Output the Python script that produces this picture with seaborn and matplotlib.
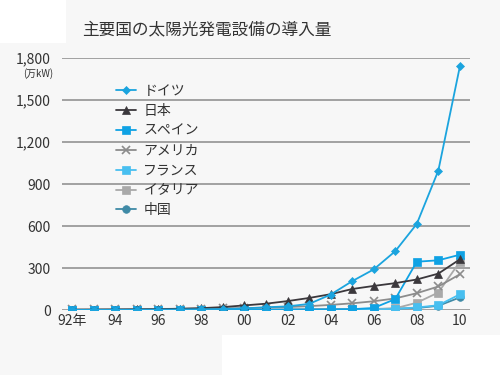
import matplotlib
matplotlib.use("Agg")
import matplotlib.pyplot as plt
import seaborn as sns
import pandas as pd
from matplotlib.patches import Rectangle

sns.set_theme(style="white")
plt.rcParams['font.family'] = ['Noto Sans CJK JP', 'DejaVu Sans']

years = list(range(1992, 2011))
tick_years = [1992, 1994, 1996, 1998, 2000, 2002, 2004, 2006, 2008, 2010]
tick_labels = ["92年", "94", "96", "98", "00", "02", "04", "06", "08", "10"]
y_ticks = [0, 300, 600, 900, 1200, 1500, 1800]
y_labels = ["0", "300", "600", "900", "1,200", "1,500", "1,800"]

countries = ["ドイツ", "日本", "スペイン", "アメリカ", "フランス", "イタリア", "中国"]
germany = [0.6, 0.9, 1.2, 1.8, 2.8, 4.2, 5.4, 7.0, 11.4, 19.5, 26, 43.5, 110, 206, 290, 420, 615, 996, 1740]
japan = [1.9, 2.4, 3.1, 4.3, 6.0, 9.1, 13.3, 20.9, 33.0, 45.2, 63.7, 86.0, 113, 150, 172, 192, 218, 260, 362]
spain = [0.7, 0.7, 0.7, 0.7, 0.7, 0.8, 0.9, 1.0, 1.2, 1.6, 2.0, 2.7, 3.7, 5.8, 14.6, 78, 345, 355, 395]
usa = [4.4, 5.0, 5.8, 6.7, 7.7, 8.8, 10.0, 11.7, 13.9, 16.8, 21.2, 27.5, 36.5, 47.9, 62.4, 83, 120, 168, 255]
france = [0.2, 0.2, 0.2, 0.2, 0.4, 0.6, 0.7, 0.9, 1.1, 1.4, 1.7, 2.1, 2.6, 3.3, 4.4, 7.5, 18, 34, 112]
italy = [0.8, 1.2, 1.4, 1.6, 1.6, 1.7, 1.8, 1.8, 1.9, 2.0, 2.2, 2.6, 3.1, 3.8, 5.0, 12, 52, 125, 345]
china = [0.5, 0.5, 0.5, 0.6, 0.7, 0.8, 1.0, 1.3, 1.9, 2.4, 4.2, 5.5, 6.5, 7.0, 8.0, 10, 14, 30, 90]

series = [germany, japan, spain, usa, france, italy, china]
colors = ["#1ba4de", "#3b383c", "#0fa2e4", "#8c8c8c", "#48bff0", "#a9a9a9", "#3f8aa6"]
markers = ["D", "^", "s", "x", "s", "s", "o"]
msizes = [4.5, 6, 5.5, 5.5, 5.5, 5.5, 5.5]

rows = []
for c, vals in zip(countries, series):
    for y, v in zip(years, vals):
        rows.append({"year": y, "value": v, "country": c})
df = pd.DataFrame(rows)

bg = "#f7f7f7"
fig = plt.figure(figsize=(5, 3.75), dpi=100, facecolor=bg)
ax = fig.add_axes([0.124, 0.1733, 0.816, 0.672])
ax.set_facecolor(bg)

for i, c in enumerate(countries):
    sub = df[df["country"] == c]
    sns.lineplot(data=sub, x="year", y="value", ax=ax, color=colors[i],
                 marker=markers[i], markersize=msizes[i], linewidth=1.3,
                 markeredgecolor=colors[i], markeredgewidth=1.2 if markers[i] == "x" else 0.5,
                 label=c, zorder=3 + (7 - i) * 0.1)

ax.set_xlim(1991.53, 2010.47)
ax.set_ylim(0, 1800)
ax.set_xticks(tick_years)
ax.set_xticklabels(tick_labels)
ax.set_yticks(y_ticks)
ax.set_yticklabels(y_labels)
ax.tick_params(axis='both', length=0, labelsize=10, colors="#333333")
ax.tick_params(axis='y', pad=8)
ax.tick_params(axis='x', pad=3)
ax.set_xlabel("")
ax.set_ylabel("")
ax.yaxis.grid(True, color="#9a9a9a", linewidth=1.3, zorder=1)
ax.set_axisbelow(True)
for s in ax.spines.values():
    s.set_visible(False)

leg = ax.legend(loc="upper left", bbox_to_anchor=(0.118, 0.918), frameon=False,
                fontsize=10, handlelength=1.45, handletextpad=0.55, labelspacing=0.42,
                borderaxespad=0)
for t in leg.get_texts():
    t.set_color("#333333")

fig.text(0.164, 0.92, "主要国の太陽光発電設備の導入量", fontsize=12, color="#333333",
         va="center", ha="left")
fig.text(0.106, 0.805, "(万kW)", fontsize=7, color="#333333", va="center", ha="right")

fig.patches.append(Rectangle((0.444, 0), 0.556, 0.107, transform=fig.transFigure,
                             facecolor="white", edgecolor="none", zorder=-1))
fig.patches.append(Rectangle((0, 0.885), 0.132, 0.115, transform=fig.transFigure,
                             facecolor="white", edgecolor="none", zorder=-1))

fig.savefig("out.png", dpi=100, facecolor=bg)
